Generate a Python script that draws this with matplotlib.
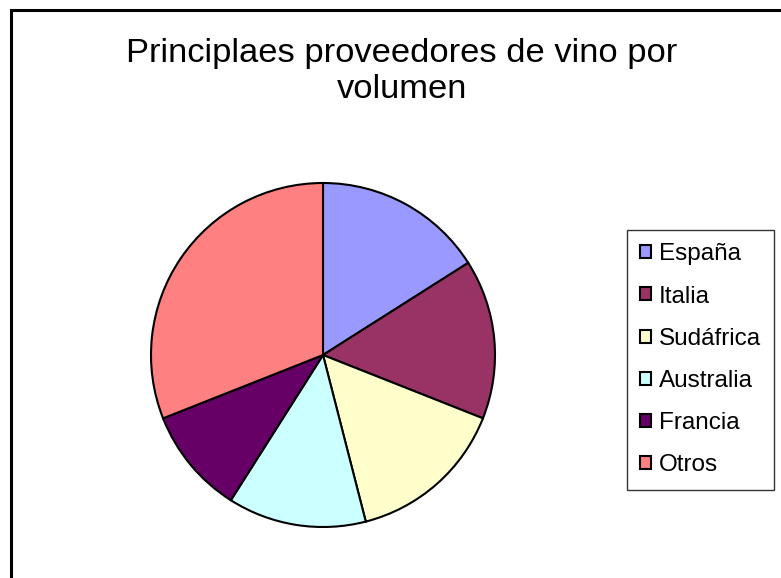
import matplotlib
matplotlib.use("Agg")
import matplotlib.pyplot as plt
from matplotlib.patches import Rectangle

title = "Principlaes proveedores de vino por\nvolumen"
countries = ["España", "Italia", "Sudáfrica", "Australia", "Francia", "Otros"]
shares = [16, 15, 15, 13, 10, 31]
colors = ["#9999FF", "#993366", "#FFFFCC", "#CCFFFF", "#660066", "#FF8080"]

plt.rcParams['font.family'] = ['Liberation Sans', 'DejaVu Sans']

W, H = 781, 578
fig = plt.figure(figsize=(W / 100, H / 100), dpi=100)
fig.patch.set_facecolor("white")

# outer chart frame (cut at right and bottom)
fig.add_artist(Rectangle((11 / W, -0.1), 1.2, (H - 9.5) / H + 0.1,
                         transform=fig.transFigure, fill=False,
                         edgecolor="black", linewidth=2.2))

cx, cy, r = 323, 355, 172
ax = fig.add_axes([(cx - r) / W, (H - cy - r) / H, 2 * r / W, 2 * r / H])
wedges, _ = ax.pie(shares, colors=colors, startangle=90, counterclock=False,
                   radius=1.0,
                   wedgeprops=dict(edgecolor="black", linewidth=1.5))
ax.set_xlim(-1.0, 1.0)
ax.set_ylim(-1.0, 1.0)
ax.set_aspect("equal")
ax.axis("off")

fig.text(402 / W, (H - 98) / H, title, ha="center", va="baseline",
         fontsize=24.8, linespacing=1.22, multialignment="center")

leg = fig.legend(wedges, countries, loc="upper left",
                 bbox_to_anchor=(627 / W, (H - 230) / H),
                 frameon=True, fancybox=False, shadow=False,
                 edgecolor="black", fontsize=17.5,
                 handlelength=0.45, handleheight=0.45, handletextpad=0.3,
                 labelspacing=0.83, borderpad=0.55, borderaxespad=0)
leg.get_frame().set_linewidth(1.0)
for h in leg.legend_handles:
    h.set_linewidth(1.5)
    h.set_edgecolor("black")

fig.savefig("out.png", dpi=100, facecolor="white")
